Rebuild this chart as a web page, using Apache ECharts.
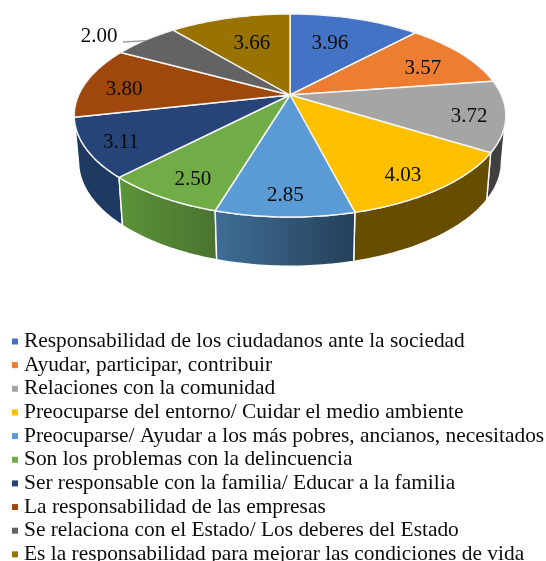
<!DOCTYPE html>
<html><head><meta charset="utf-8">
<style>html,body{margin:0;padding:0;background:#fff;overflow:hidden}#c{width:546px;height:561px}</style>
<script src="https://cdn.jsdelivr.net/npm/echarts@6/dist/echarts.min.js"></script>
</head><body><div id="c"></div>
<script>
const categories = [
  'Responsabilidad de los ciudadanos ante la sociedad',
  'Ayudar, participar, contribuir',
  'Relaciones con la comunidad',
  'Preocuparse del entorno/ Cuidar el medio ambiente',
  'Preocuparse/ Ayudar a los más pobres, ancianos, necesitados',
  'Son los problemas con la delincuencia',
  'Ser responsable con la familia/ Educar a la familia',
  'La responsabilidad de las empresas',
  'Se relaciona con el Estado/ Los deberes del Estado',
  'Es la responsabilidad para mejorar las condiciones de vida'
];
const values = [3.96, 3.57, 3.72, 4.03, 2.85, 2.50, 3.11, 3.80, 2.00, 3.66];
const colors = ['#4472C4','#ED7D31','#A5A5A5','#FFC000','#5B9BD5','#70AD47','#264478','#9E480E','#636363','#997300'];
const wallLeft  = ['#2f4f88','#a5561f','#404040','#664d00','#3f6d97','#5c9438','#20395f','#6e320a','#454545','#6b5000'];
const wallRight = ['#2f4f88','#a5561f','#404040','#664d00','#264059','#4a7230','#1d3a63','#6e320a','#454545','#6b5000'];
const labelRadius = [0.647,0.734,0.837,0.84,0.85,0.832,0.848,0.80,1.249,0.644];
const labelShift  = [-2.3,3.2,1.8,3.1,0.1,-2.1,-1.2,-2.8,-5.2,1.5];

const apexX = 290, apexY = 95, kx = 211.3, ky = 97.4, persp = 0.202;
const wallDrop = 45.5, wallSx = 0.98, wallSy = 1.03;
const fontFamily = '"Liberation Serif","Times New Roman",serif';

const total = values.reduce((a, b) => a + b, 0);
const starts = values.map((_, i) => values.slice(0, i).reduce((a, b) => a + b, 0) / total * 360);
const sweeps = values.map(v => v / total * 360);
// angles where the projected rim reaches its widest x: the wall silhouette starts there
const sideAngle = Math.acos(-persp) * 180 / Math.PI;

function proj(deg, r) {
  const t = deg * Math.PI / 180, u = r * Math.sin(t), v = r * Math.cos(t), d = 1 + persp * v;
  return [apexX + kx * u / d, apexY - ky * v / d];
}
function low(p) {
  return [apexX + (p[0] - apexX) * wallSx, apexY + wallDrop + (p[1] - apexY) * wallSy];
}
function arc(a0, a1) {
  const n = Math.max(2, Math.ceil(a1 - a0)), pts = [];
  for (let i = 0; i <= n; i++) pts.push(proj(a0 + (a1 - a0) * i / n, 1));
  return pts;
}
const wallOrder = values.map((_, i) => i)
  .sort((a, b) => Math.abs(starts[b] + sweeps[b] / 2 - 180) - Math.abs(starts[a] + sweeps[a] / 2 - 180));

const wallSeries = {
  type: 'custom', name: '_walls', coordinateSystem: 'none', z: 1, silent: true, animation: false,
  data: wallOrder.map(i => [i]),
  renderItem(params, api) {
    const i = api.value(0);
    const a0 = starts[i], a1 = a0 + sweeps[i];
    const lo = Math.max(a0, sideAngle), hi = Math.min(a1, 360 - sideAngle);
    if (hi <= lo) return { type: 'group', children: [] };
    const top = arc(lo, hi), bot = top.map(low).reverse();
    return {
      type: 'polygon', shape: { points: top.concat(bot) },
      style: {
        fill: { type: 'linear', x: 0, y: 0, x2: 1, y2: 0, colorStops: [
          { offset: 0, color: wallLeft[i] }, { offset: 1, color: wallRight[i] }] },
        stroke: '#fff', lineWidth: 1.4, lineJoin: 'round'
      }
    };
  }
};

const sliceSeries = categories.map((name, i) => ({
  type: 'custom', name, coordinateSystem: 'none', z: 2, silent: true, animation: false,
  itemStyle: { color: colors[i] },
  data: [[values[i]]],
  renderItem(params, api) {
    const a0 = starts[i], a1 = a0 + sweeps[i], mid = a0 + sweeps[i] / 2;
    const pts = [[apexX, apexY]].concat(arc(a0, a1));
    const lp = proj(mid + labelShift[i], labelRadius[i]);
    const children = [{
      type: 'polygon', z2: 1, shape: { points: pts },
      style: { fill: colors[i], stroke: '#f4f4f4', lineWidth: 1.4, lineJoin: 'round' }
    }, {
      type: 'text', z2: 5,
      style: { text: api.value(0).toFixed(2), x: lp[0], y: lp[1] + 1, align: 'center', verticalAlign: 'middle',
        fill: '#0c0c0c', font: '21px ' + fontFamily }
    }];
    if (labelRadius[i] > 1) {
      const end = proj(mid, 0.99);
      children.push({
        type: 'polyline', z2: 4,
        shape: { points: [[lp[0] + 24, lp[1] + 7], end] },
        style: { fill: null, stroke: '#999999', lineWidth: 1.3 }
      });
    }
    return { type: 'group', children };
  }
}));

const chart = echarts.init(document.getElementById('c'), null, { renderer: 'canvas' });
chart.setOption({
  backgroundColor: '#fff',
  animation: false,
  legend: {
    data: categories, orient: 'vertical', left: 12, top: 331, height: 320, width: 534,
    padding: 0, itemWidth: 6, itemHeight: 6, itemGap: 2.65, icon: 'rect', selectedMode: false,
    textStyle: { fontFamily, fontSize: 21.4, lineHeight: 20, color: '#0c0c0c', padding: [0, 0, 0, 1] }
  },
  series: [wallSeries].concat(sliceSeries)
});
</script></body></html>
